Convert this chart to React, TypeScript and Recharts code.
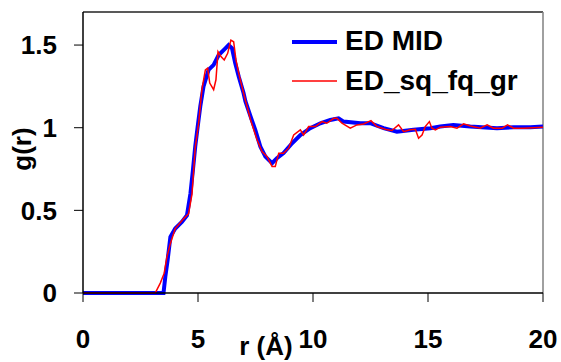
import React from 'react';
import { LineChart, Line, XAxis, YAxis, ReferenceLine } from 'recharts';

const edMidR = [0, 3.0, 3.5, 3.58, 3.68, 3.8, 4.01, 4.3, 4.52, 4.67, 4.78, 4.88, 4.98, 5.1, 5.24, 5.46, 5.68, 5.9, 6.19, 6.33, 6.48, 6.62, 6.77, 6.98, 7.06, 7.28, 7.49, 7.71, 7.93, 8.22, 8.43, 8.72, 9.09, 9.45, 9.88, 10.32, 10.75, 11.11, 11.33, 12.06, 12.49, 13.07, 13.65, 14.37, 15.1, 15.53, 16.1, 16.84, 18.0, 18.72, 19.45, 20];
const edMidG = [0, 0, 0, 0.1, 0.2, 0.34, 0.39, 0.43, 0.47, 0.6, 0.745, 0.886, 1.0, 1.13, 1.25, 1.35, 1.38, 1.44, 1.48, 1.5, 1.48, 1.39, 1.31, 1.21, 1.16, 1.07, 0.987, 0.886, 0.825, 0.785, 0.815, 0.846, 0.906, 0.956, 0.997, 1.027, 1.047, 1.057, 1.037, 1.027, 1.027, 0.997, 0.976, 0.987, 0.997, 1.007, 1.017, 1.007, 0.997, 1.003, 1.003, 1.007];

const sqR = [0, 3.14, 3.36, 3.53, 3.65, 3.8, 4.01, 4.38, 4.59, 4.74, 4.88, 5.03, 5.17, 5.32, 5.42, 5.51, 5.68, 5.78, 5.87, 6.0, 6.14, 6.29, 6.43, 6.55, 6.65, 6.77, 6.98, 7.28, 7.56, 7.78, 8.0, 8.22, 8.36, 8.51, 8.72, 8.94, 9.16, 9.45, 9.59, 9.81, 10.1, 10.39, 10.6, 10.9, 11.04, 11.26, 11.62, 11.91, 12.2, 12.52, 12.78, 13.22, 13.43, 13.72, 13.94, 14.23, 14.45, 14.59, 14.74, 14.88, 15.06, 15.17, 15.32, 15.54, 15.97, 16.26, 16.55, 16.84, 17.27, 17.57, 17.85, 18.22, 18.46, 18.72, 19.16, 19.59, 20];
const sqG = [0, 0, 0.06, 0.12, 0.22, 0.3, 0.39, 0.45, 0.48, 0.6, 0.88, 1.03, 1.23, 1.35, 1.36, 1.27, 1.23, 1.29, 1.46, 1.43, 1.41, 1.45, 1.53, 1.52, 1.41, 1.33, 1.21, 1.05, 0.93, 0.856, 0.826, 0.765, 0.765, 0.846, 0.846, 0.876, 0.956, 0.987, 0.956, 1.007, 1.007, 1.037, 1.027, 1.057, 1.057, 1.027, 0.997, 1.017, 1.023, 1.043, 1.007, 0.987, 0.983, 1.017, 0.976, 0.987, 0.99, 0.936, 0.956, 1.007, 1.037, 0.997, 0.987, 1.003, 1.007, 0.997, 1.023, 1.01, 0.997, 1.017, 0.997, 0.997, 1.017, 0.997, 0.997, 1.0, 1.003];

const xTicks = [0, 5, 10, 15, 20];
const yTicks = [0, 0.5, 1, 1.5];
const seriesNames = ['ED MID', 'ED_sq_fq_gr'];

const edMidData = edMidR.map((r, i) => ({ r, g: edMidG[i] }));
const sqData = sqR.map((r, i) => ({ r, g: sqG[i] }));

const FONT = '"Liberation Sans", Arial, sans-serif';

const xLabel = () => (
  <text x={266} y={355} textAnchor="middle" fontFamily={FONT} fontWeight="bold" fontSize={26} fill="#000">r (Å)</text>
);
const yLabel = () => (
  <text x={31} y={149} transform="rotate(-90, 31, 149)" textAnchor="middle" fontFamily={FONT} fontWeight="bold" fontSize={26} fill="#000">g(r)</text>
);

export default function App() {
  return (
    <div style={{ position: 'absolute', left: 0, top: 0, width: 561, height: 362, background: '#fff' }}>
      <LineChart width={561} height={362} margin={{ top: 12, right: 18, left: 0, bottom: 0 }}>
        <XAxis
          dataKey="r"
          type="number"
          domain={[0, 20]}
          ticks={xTicks}
          allowDuplicatedCategory={false}
          height={69}
          tickSize={9}
          tickMargin={28}
          stroke="#000"
          tickLine={{ stroke: '#000' }}
          axisLine={{ stroke: '#000', strokeWidth: 1.5 }}
          tick={{ fill: '#000', fontSize: 26, fontWeight: 'bold', fontFamily: FONT }}
          label={{ content: xLabel }}
        />
        <YAxis
          type="number"
          domain={[0, 1.7]}
          ticks={yTicks}
          width={83}
          tickSize={9}
          tickMargin={17}
          stroke="#000"
          tickLine={{ stroke: '#000' }}
          axisLine={{ stroke: '#000', strokeWidth: 1.5 }}
          tick={{ fill: '#000', fontSize: 26, fontWeight: 'bold', fontFamily: FONT }}
          label={{ content: yLabel }}
        />
        <ReferenceLine y={1.7} stroke="#222" strokeWidth={1.5} />
        <ReferenceLine x={20} stroke="#808080" strokeWidth={1.5} />
        <Line data={edMidData} dataKey="g" name={seriesNames[0]} type="linear" stroke="#0000ff" strokeWidth={4} dot={false} isAnimationActive={false} />
        <Line data={sqData} dataKey="g" name={seriesNames[1]} type="linear" stroke="#ff0000" strokeWidth={1.5} dot={false} isAnimationActive={false} />
      </LineChart>
      <div style={{ position: 'absolute', left: 280, top: 13, width: 262, height: 86, background: 'rgba(255,255,255,0.6)' }}>
        <svg width={262} height={86} style={{ display: 'block' }}>
          <line x1={12} y1={29} x2={57} y2={29} stroke="#0000ff" strokeWidth={4} />
          <text x={65} y={37} fontFamily={FONT} fontWeight="bold" fontSize={28} fill="#000">{seriesNames[0]}</text>
          <line x1={12} y1={68} x2={57} y2={68} stroke="#ff0000" strokeWidth={1.5} />
          <text x={65} y={77} fontFamily={FONT} fontWeight="bold" fontSize={28} fill="#000">{seriesNames[1]}</text>
        </svg>
      </div>
    </div>
  );
}
